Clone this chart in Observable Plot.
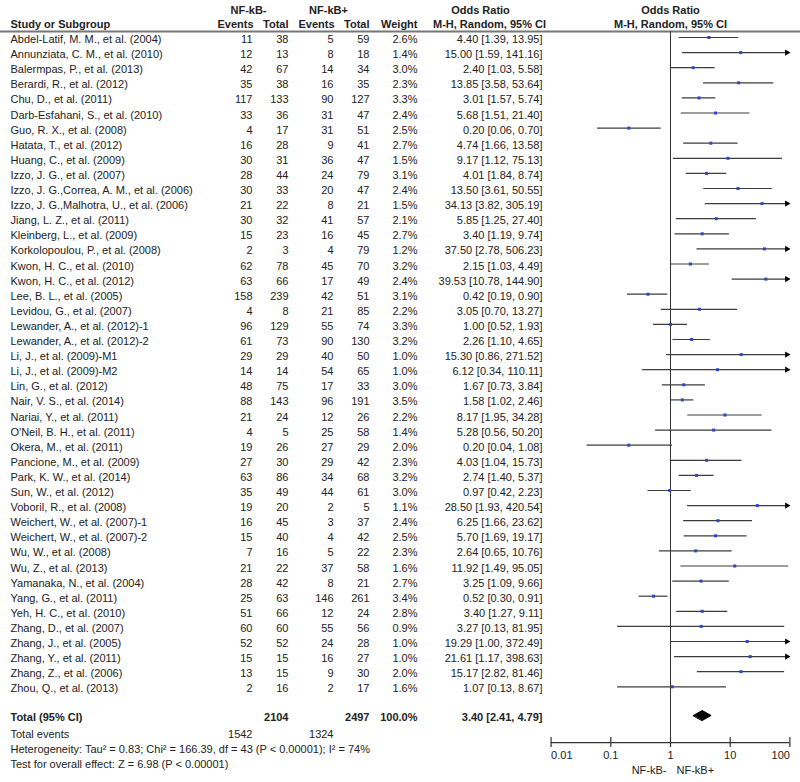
<!DOCTYPE html>
<html>
<head>
<meta charset="utf-8">
<script src="https://cdn.jsdelivr.net/npm/d3@7"></script>
<script src="https://cdn.jsdelivr.net/npm/@observablehq/plot@0.6"></script>
<style>
  html, body { margin: 0; padding: 0; background: #fff; }
</style>
</head>
<body>
<div id="chart"></div>
<script>
// ---------- data ----------
const studies = [
  "Abdel-Latif, M. M., et al. (2004)",
  "Annunziata, C. M., et al. (2010)",
  "Balermpas, P., et al. (2013)",
  "Berardi, R., et al. (2012)",
  "Chu, D., et al. (2011)",
  "Darb-Esfahani, S., et al. (2010)",
  "Guo, R. X., et al. (2008)",
  "Hatata, T., et al. (2012)",
  "Huang, C., et al. (2009)",
  "Izzo, J. G., et al. (2007)",
  "Izzo, J. G.,Correa, A. M., et al. (2006)",
  "Izzo, J. G.,Malhotra, U., et al. (2006)",
  "Jiang, L. Z., et al. (2011)",
  "Kleinberg, L., et al. (2009)",
  "Korkolopoulou, P., et al. (2008)",
  "Kwon, H. C., et al. (2010)",
  "Kwon, H. C., et al. (2012)",
  "Lee, B. L., et al. (2005)",
  "Levidou, G., et al. (2007)",
  "Lewander, A., et al. (2012)-1",
  "Lewander, A., et al. (2012)-2",
  "Li, J., et al. (2009)-M1",
  "Li, J., et al. (2009)-M2",
  "Lin, G., et al. (2012)",
  "Nair, V. S., et al. (2014)",
  "Nariai, Y., et al. (2011)",
  "O'Neil, B. H., et al. (2011)",
  "Okera, M., et al. (2011)",
  "Pancione, M., et al. (2009)",
  "Park, K. W., et al. (2014)",
  "Sun, W., et al. (2012)",
  "Voboril, R., et al. (2008)",
  "Weichert, W., et al. (2007)-1",
  "Weichert, W., et al. (2007)-2",
  "Wu, W., et al. (2008)",
  "Wu, Z., et al. (2013)",
  "Yamanaka, N., et al. (2004)",
  "Yang, G., et al. (2011)",
  "Yeh, H. C., et al. (2010)",
  "Zhang, D., et al. (2007)",
  "Zhang, J., et al. (2005)",
  "Zhang, Y., et al. (2011)",
  "Zhang, Z., et al. (2006)",
  "Zhou, Q., et al. (2013)"
];
const eventsNeg = [11,12,42,35,117,33,4,16,30,28,30,21,30,15,2,62,63,158,4,96,61,29,14,48,88,21,4,19,27,63,35,19,16,15,7,21,28,25,51,60,52,15,13,2];
const totalNeg  = [38,13,67,38,133,36,17,28,31,44,33,22,32,23,3,78,66,239,8,129,73,29,14,75,143,24,5,26,30,86,49,20,45,40,16,22,42,63,66,60,52,15,15,16];
const eventsPos = [5,8,14,16,90,31,31,9,36,24,20,8,41,16,4,45,17,42,21,55,90,40,54,17,96,12,25,27,29,34,44,2,3,4,5,37,8,146,12,55,24,16,9,2];
const totalPos  = [59,18,34,35,127,47,51,41,47,79,47,21,57,45,79,70,49,51,85,74,130,50,65,33,191,26,58,29,42,68,61,5,37,42,22,58,21,261,24,56,28,27,30,17];
const weights   = [2.6,1.4,3.0,2.3,3.3,2.4,2.5,2.7,1.5,3.1,2.4,1.5,2.1,2.7,1.2,3.2,2.4,3.1,2.2,3.3,3.2,1.0,1.0,3.0,3.5,2.2,1.4,2.0,2.3,3.2,3.0,1.1,2.4,2.5,2.3,1.6,2.7,3.4,2.8,0.9,1.0,1.0,2.0,1.6];
const oddsRatio = [4.40,15.00,2.40,13.85,3.01,5.68,0.20,4.74,9.17,4.01,13.50,34.13,5.85,3.40,37.50,2.15,39.53,0.42,3.05,1.00,2.26,15.30,6.12,1.67,1.58,8.17,5.28,0.20,4.03,2.74,0.97,28.50,6.25,5.70,2.64,11.92,3.25,0.52,3.40,3.27,19.29,21.61,15.17,1.07];
const ciLow     = [1.39,1.59,1.03,3.58,1.57,1.51,0.06,1.66,1.12,1.84,3.61,3.82,1.25,1.19,2.78,1.03,10.78,0.19,0.70,0.52,1.10,0.86,0.34,0.73,1.02,1.95,0.56,0.04,1.04,1.40,0.42,1.93,1.66,1.69,0.65,1.49,1.09,0.30,1.27,0.13,1.00,1.17,2.82,0.13];
const ciHigh    = [13.95,141.16,5.58,53.64,5.74,21.40,0.70,13.58,75.13,8.74,50.55,305.19,27.40,9.74,506.23,4.49,144.90,0.90,13.27,1.93,4.65,271.52,110.11,3.84,2.46,34.28,50.20,1.08,15.73,5.37,2.23,420.54,23.62,19.17,10.76,95.05,9.66,0.91,9.11,81.95,372.49,398.63,81.46,8.67];

const totalTotals = [2104, 2497];      // NF-kB-, NF-kB+
const totalEvents = [1542, 1324];      // NF-kB-, NF-kB+
const totalWeight = 100.0;
const pooled = [3.40, 2.41, 4.79];     // OR, low, high
const heterogeneity = {tau2: 0.83, chi2: 166.39, df: 43, p: "P < 0.00001", i2: 74};
const overall = {z: 6.98, p: "P < 0.00001"};

const axisTicks = [0.01, 0.1, 1, 10, 100];
const axisLabels = ["0.01", "0.1", "1", "10", "100"];
const sideLabels = ["NF-kB-", "NF-kB+"];

// ---------- table ----------
const rows = studies.map((name, i) => ({
  i, name,
  en: eventsNeg[i], tn: totalNeg[i], ep: eventsPos[i], tp: totalPos[i],
  w: weights[i], or: oddsRatio[i], lo: ciLow[i], hi: ciHigh[i]
}));
const f2 = d3.format(".2f");
const f1 = d3.format(".1f");
const ciText = (o, l, h) => `${f2(o)} [${f2(l)}, ${f2(h)}]`;

// layout rows (in row units)
const R_TOP1 = -1.93, R_TOP2 = -0.98, R_RULE = -0.53;
const R_TOTAL = 44.9, R_EVENTS = 46.0, R_HET = 47.0, R_TEST = 48.0;
const R_AXIS = 46.56, R_TICKLAB = 47.4, R_SIDE = 48.4;
const LINE_DY = -2;
const TXT = "#222";

const bold = {fontWeight: "bold"};
const colText = (data, y, text, dx, anchor = "end", extra = {}) =>
  Plot.text(data, {y, text, frameAnchor: "left", dx, textAnchor: anchor, fill: TXT, ...extra});

const diamond = [
  {x: pooled[1], y: R_TOTAL},
  {x: pooled[0], y: R_TOTAL - 0.33},
  {x: pooled[2], y: R_TOTAL},
  {x: pooled[0], y: R_TOTAL + 0.33}
];

const one = [0];
const chart = Plot.plot({
  width: 800,
  height: 782,
  marginLeft: 0, marginRight: 0, marginTop: 0, marginBottom: 0,
  style: {fontFamily: "'Liberation Sans', Arial, sans-serif", fontSize: "11px", background: "#fff", color: TXT},
  x: {type: "log", domain: [0.01, 100], range: [550.6, 789.4], axis: null},
  y: {domain: [0, 43], range: [39, 688.3], axis: null},
  marks: [
    // header
    colText(one, () => R_TOP1, () => "NF-kB-", 248, "middle", bold),
    colText(one, () => R_TOP1, () => "NF-kB+", 328, "middle", bold),
    colText(one, () => R_TOP1, () => "Odds Ratio", 480, "middle", bold),
    colText(one, () => R_TOP2, () => "Study or Subgroup", 10, "start", bold),
    colText(one, () => R_TOP2, () => "Events", 253, "end", bold),
    colText(one, () => R_TOP2, () => "Total", 288, "end", bold),
    colText(one, () => R_TOP2, () => "Events", 334, "end", bold),
    colText(one, () => R_TOP2, () => "Total", 369, "end", bold),
    colText(one, () => R_TOP2, () => "Weight", 417, "end", bold),
    colText(one, () => R_TOP2, () => "M-H, Random, 95% CI", 489, "middle", bold),
    Plot.text(one, {x: () => 1, y: () => R_TOP1, text: () => "Odds Ratio", fill: TXT, ...bold}),
    Plot.text(one, {x: () => 1, y: () => R_TOP2, text: () => "M-H, Random, 95% CI", fill: TXT, ...bold}),
    Plot.ruleY([R_RULE], {stroke: "#777", strokeWidth: 2}),

    // study rows
    colText(rows, "i", "name", 10, "start"),
    colText(rows, "i", "en", 252),
    colText(rows, "i", "tn", 288),
    colText(rows, "i", "ep", 333),
    colText(rows, "i", "tp", 369),
    colText(rows, "i", d => f1(d.w) + "%", 417),
    colText(rows, "i", d => ciText(d.or, d.lo, d.hi), 542),

    // totals
    colText(one, () => R_TOTAL, () => "Total (95% CI)", 10, "start", bold),
    colText(one, () => R_TOTAL, () => String(totalTotals[0]), 288, "end", bold),
    colText(one, () => R_TOTAL, () => String(totalTotals[1]), 369, "end", bold),
    colText(one, () => R_TOTAL, () => f1(totalWeight) + "%", 417, "end", bold),
    colText(one, () => R_TOTAL, () => ciText(...pooled), 542, "end", bold),
    colText(one, () => R_EVENTS, () => "Total events", 10, "start"),
    colText(one, () => R_EVENTS, () => String(totalEvents[0]), 252),
    colText(one, () => R_EVENTS, () => String(totalEvents[1]), 333),
    colText(one, () => R_HET, () =>
      `Heterogeneity: Tau² = ${f2(heterogeneity.tau2)}; Chi² = ${f2(heterogeneity.chi2)}, df = ${heterogeneity.df} (${heterogeneity.p}); I² = ${heterogeneity.i2}%`, 10, "start"),
    colText(one, () => R_TEST, () => `Test for overall effect: Z = ${f2(overall.z)} (${overall.p})`, 10, "start"),

    // forest plot
    Plot.ruleX([1], {y1: R_RULE, y2: R_AXIS, stroke: "#333", strokeWidth: 1}),
    Plot.ruleY(rows, {y: "i", x1: d => Math.max(d.lo, 0.01), x2: d => Math.min(d.hi, 100),
      stroke: "#3c3c3c", strokeWidth: 1.2, dy: LINE_DY}),
    Plot.dot(rows.filter(d => d.hi > 100), {x: () => 100, y: "i", symbol: "triangle", rotate: 90,
      r: 2.3, fill: "#000", stroke: "none", dx: -3, dy: LINE_DY}),
    Plot.dot(rows, {x: "or", y: "i", symbol: "square", r: 1.7, fill: "#2d46c8", stroke: "none", dy: LINE_DY}),
    Plot.line(diamond, {x: "x", y: "y", fill: "#000", stroke: "#000", strokeWidth: 1, curve: "linear-closed", dy: LINE_DY}),

    // axis
    Plot.ruleY([R_AXIS], {x1: 0.01, x2: 100, stroke: "#333", strokeWidth: 1.2}),
    Plot.ruleX(axisTicks, {x: d => d, y1: R_AXIS - 0.33, y2: R_AXIS + 0.33, stroke: "#333", strokeWidth: 1.2}),
    Plot.text(axisTicks.slice(0, 1), {x: d => d, y: () => R_TICKLAB, text: (d, i) => axisLabels[0], textAnchor: "start", fill: TXT}),
    Plot.text(axisTicks.slice(1, 4), {x: d => d, y: () => R_TICKLAB, text: (d, i) => axisLabels[i + 1], textAnchor: "middle", fill: TXT}),
    Plot.text(axisTicks.slice(4), {x: d => d, y: () => R_TICKLAB, text: (d, i) => axisLabels[4], textAnchor: "end", fill: TXT}),
    Plot.text(one, {x: () => 1, y: () => R_SIDE, text: () => sideLabels[0], textAnchor: "end", dx: -4, fill: TXT}),
    Plot.text(one, {x: () => 1, y: () => R_SIDE, text: () => sideLabels[1], textAnchor: "start", dx: 6, fill: TXT})
  ]
});
document.getElementById("chart").appendChild(chart);
</script>
</body>
</html>
